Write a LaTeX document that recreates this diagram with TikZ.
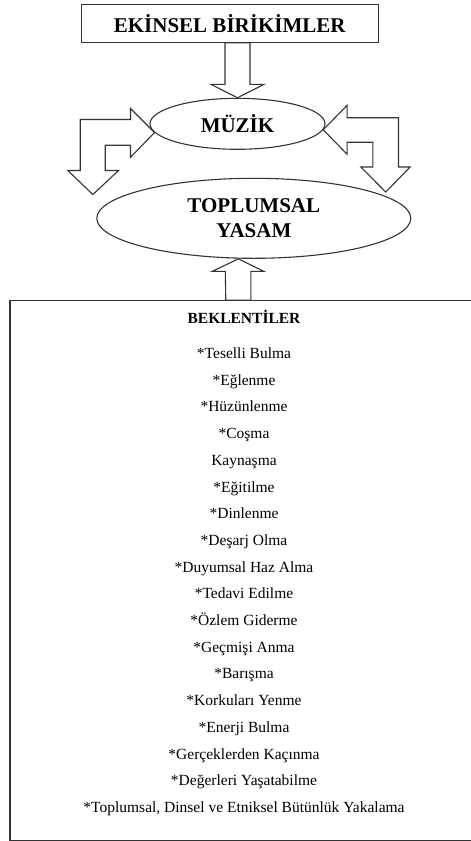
\documentclass[tikz,border=0pt]{standalone}
\usepackage{fontspec}
\setmainfont{Liberation Serif}
\usetikzlibrary{shapes.geometric}

\tikzset{
    lin/.style={draw=black!80,line width=1.1pt},
    blk/.style={lin,line join=miter},
    head/.style={font=\fontsize{21}{25}\selectfont\bfseries},
    item/.style={font=\fontsize{15.5}{18}\selectfont,inner sep=0pt,anchor=base}
}

\begin{document}
\begin{tikzpicture}[x=1pt,y=-1pt]
    \useasboundingbox (0,0) rectangle (471,841);
    \clip (0,0) rectangle (471,841);

    \node (ekin) at (229.7,23.3) [lin,head,rectangle,minimum width=297,minimum height=38] {EKİNSEL BİRİKİMLER};
    \node (muzik) at (237.5,123.8) [lin,head,ellipse,minimum width=175,minimum height=51,inner sep=0pt] {MÜZİK};
    \node (toplum) at (253.8,218.3) [lin,head,ellipse,minimum width=314,minimum height=80,inner sep=0pt,align=center] {TOPLUMSAL\\YASAM};
    \node (bekl) at (244,570.4) [lin,rectangle,minimum width=468,minimum height=539.3,inner sep=0pt] {};

    % down into muzik
    \draw[blk] (muzik.north) -- ++(-26.5,-13.4) -- ++(14,0)
        -- ([xshift=-12.5pt]muzik.north |- ekin.south)
        -- ([xshift=12.5pt]muzik.north |- ekin.south)
        -- ([xshift=12.5pt,yshift=13.4pt]muzik.north) -- ++(14,0) -- cycle;

    % bent arrows on both sides
    \draw[blk] (muzik.186) -- ++(-24,24.7) -- ++(0,-12) -- ++(-25.3,0) -- ++(0,25.3) -- ++(13.3,0)
        -- ++(-25.7,24) -- ++(-25,-24) -- ++(12.4,0) -- ++(0,-51) -- ++(50.3,0) -- ++(0,-11) -- cycle;
    \draw[blk] (muzik.356) -- ++(24,-24.5) -- ++(0,12.5) -- ++(51.3,0) -- ++(0,49.2) -- ++(11.7,0)
        -- ++(-24.5,25) -- ++(-24.8,-25) -- ++(12,0) -- ++(0,-24.7) -- ++(-25.7,0) -- ++(0,12) -- cycle;

    % up from the list
    \draw[blk] ([xshift=-15.5pt]toplum.south) -- ++(-26,12.5) -- ++(13,0)
        -- ([xshift=-28pt]toplum.south |- bekl.north)
        -- ([xshift=-3pt]toplum.south |- bekl.north)
        -- ([xshift=-3pt,yshift=-12.5pt]toplum.south) -- ++(13,0) -- cycle;

    \node (baslik) at (244,323.3) [item,font=\fontsize{15.5}{18}\selectfont\bfseries] {BEKLENTİLER};
    \foreach \txt [count=\i from 0] in {*Teselli Bulma,*Eğlenme,*Hüzünlenme,*Coşma,Kaynaşma,*Eğitilme,
        *Dinlenme,*Deşarj Olma,*Duyumsal Haz Alma,*Tedavi Edilme,*Özlem Giderme,*Geçmişi Anma,
        *Barışma,*Korkuları Yenme,*Enerji Bulma,*Gerçeklerden Kaçınma,*Değerleri Yaşatabilme,
        {*Toplumsal, Dinsel ve Etniksel Bütünlük Yakalama}}
        \node (madde\i) at (244,{358.5+26.7*\i}) [item] {\txt};
\end{tikzpicture}
\end{document}
